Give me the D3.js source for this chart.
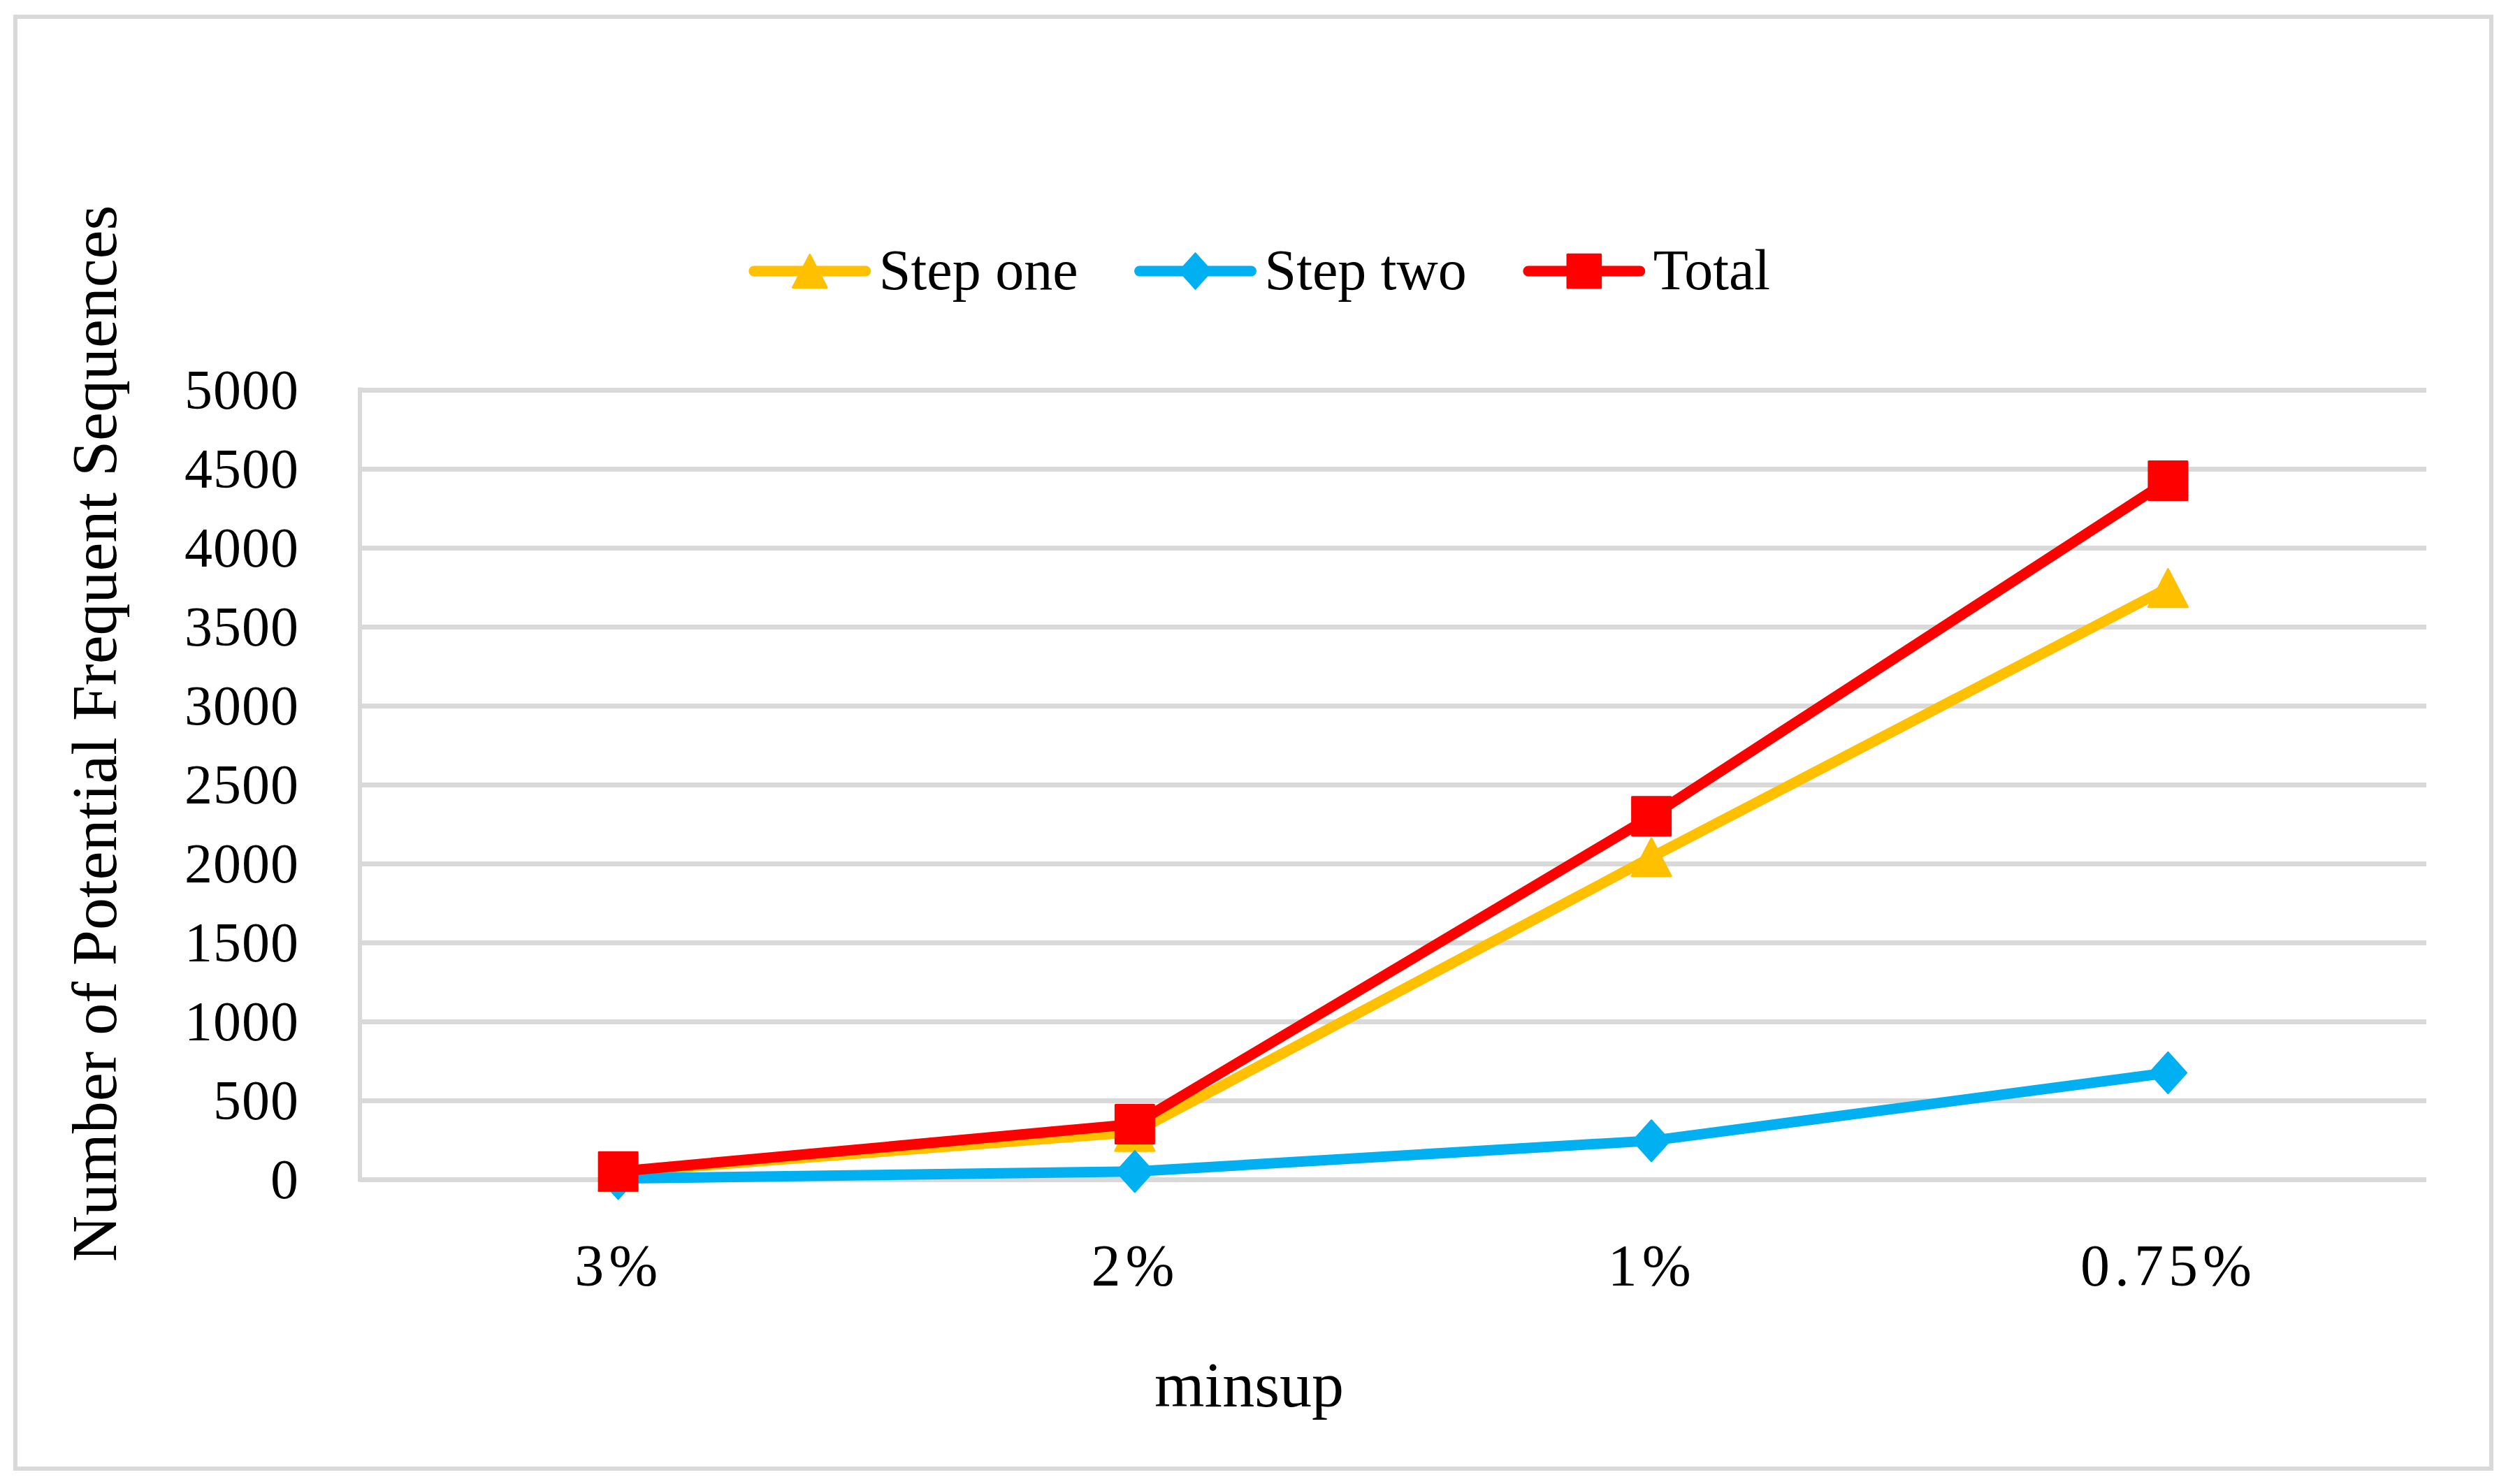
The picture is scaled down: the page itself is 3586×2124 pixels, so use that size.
<!DOCTYPE html>
<html>
<head>
<meta charset="utf-8">
<script src="https://cdn.jsdelivr.net/npm/d3@7"></script>
<style>
  html, body { margin: 0; padding: 0; background: #ffffff; }
  svg { display: block; }
</style>
</head>
<body>
<svg id="chart" width="3586" height="2124"></svg>
<script>
// ---- data ----
const categories = ["3%", "2%", "1%", "0.75%"];
const stepOne = [45, 300, 2040, 3745];
const stepTwo = [5, 50, 245, 675];
const total = [50, 350, 2300, 4425];
const yTicks = [0, 500, 1000, 1500, 2000, 2500, 3000, 3500, 4000, 4500, 5000];
const seriesNames = ["Step one", "Step two", "Total"];
const seriesColors = ["#FFC000", "#00B0F0", "#FF0000"];
const xTitle = "minsup";
const yTitle = "Number of Potential Frequent Sequences";

// ---- layout ----
const plot = { left: 515, right: 3472, top: 558, bottom: 1688 };
const fontFamily = "'Liberation Serif', 'Times New Roman', serif";

const svg = d3.select("#chart");

svg.append("rect")
  .attr("x", 22).attr("y", 24)
  .attr("width", 3543).attr("height", 2078)
  .attr("fill", "#ffffff")
  .attr("stroke", "#D9D9D9")
  .attr("stroke-width", 6);

const x = d3.scalePoint().domain(categories).range([plot.left, plot.right]).padding(0.5);
const y = d3.scaleLinear().domain([0, 5000]).range([plot.bottom, plot.top]);

// gridlines + y tick labels
const yAxis = d3.axisLeft(y)
  .tickValues(yTicks)
  .tickSize(-(plot.right - plot.left))
  .tickPadding(87)
  .tickFormat(d3.format("d"));

const gy = svg.append("g")
  .attr("transform", `translate(${plot.left},0)`)
  .call(yAxis);
gy.select(".domain").remove();
gy.selectAll(".tick line")
  .attr("stroke", "#D9D9D9")
  .attr("stroke-width", 7);
gy.selectAll(".tick text")
  .attr("fill", "#000")
  .attr("font-family", fontFamily)
  .attr("font-size", 80)
  .attr("letter-spacing", 1)
  .attr("dy", "0.33em");

// left vertical axis line
svg.append("line")
  .attr("x1", plot.left).attr("x2", plot.left)
  .attr("y1", y(5000) - 3.5).attr("y2", y(0) + 3.5)
  .attr("stroke", "#D9D9D9")
  .attr("stroke-width", 6);

// x axis labels
const xAxis = d3.axisBottom(x).tickSize(0).tickPadding(0);
const gx = svg.append("g")
  .attr("transform", `translate(0,${plot.bottom})`)
  .call(xAxis);
gx.select(".domain").remove();
gx.selectAll(".tick text")
  .attr("fill", "#000")
  .attr("font-family", fontFamily)
  .attr("font-size", 84)
  .attr("letter-spacing", 7)
  .attr("dy", 0)
  .attr("y", 152);

// axis titles
svg.append("text")
  .attr("x", (plot.left + plot.right) / 2 - 206)
  .attr("y", 2013)
  .attr("text-anchor", "middle")
  .attr("font-family", fontFamily)
  .attr("font-size", 92)
  .attr("fill", "#000")
  .text(xTitle);

svg.append("text")
  .attr("transform", `translate(166,1050) rotate(-90)`)
  .attr("text-anchor", "middle")
  .attr("font-family", fontFamily)
  .attr("font-size", 92)
  .attr("fill", "#000")
  .text(yTitle);

// custom marker shapes
const triangleShape = {
  draw(ctx, size) {
    const w = Math.sqrt(size) * 1.04, h = Math.sqrt(size);
    ctx.moveTo(0, -h / 2);
    ctx.lineTo(w / 2, h / 2);
    ctx.lineTo(-w / 2, h / 2);
    ctx.closePath();
  }
};
const diamondShape = {
  draw(ctx, size) {
    const h = Math.sqrt(size), w = h * 0.9;
    ctx.moveTo(0, -h / 2);
    ctx.lineTo(w / 2, 0);
    ctx.lineTo(0, h / 2);
    ctx.lineTo(-w / 2, 0);
    ctx.closePath();
  }
};
const squareShape = {
  draw(ctx, size) {
    const s = Math.sqrt(size);
    ctx.rect(-s / 2, -s / 2, s, s);
  }
};
const shapes = [triangleShape, diamondShape, squareShape];
const shapeSizes = [54 * 54, 58 * 58, 55 * 55];

const seriesValues = [stepOne, stepTwo, total];

const line = d3.line()
  .x((d, i) => x(categories[i]))
  .y(d => y(d));

seriesValues.forEach((vals, si) => {
  const g = svg.append("g");
  g.append("path")
    .attr("d", line(vals))
    .attr("fill", "none")
    .attr("stroke", seriesColors[si])
    .attr("stroke-width", 15)
    .attr("stroke-linejoin", "round")
    .attr("stroke-linecap", "round");
  g.selectAll("path.marker")
    .data(vals)
    .enter().append("path")
    .attr("class", "marker")
    .attr("transform", (d, i) => `translate(${x(categories[i])},${y(d)})`)
    .attr("d", d3.symbol().type(shapes[si]).size(shapeSizes[si])())
    .attr("fill", seriesColors[si])
    .attr("stroke", seriesColors[si])
    .attr("stroke-width", 3)
    .attr("stroke-linejoin", "round");
});

// legend
const legendY = 388;
const legend = svg.append("g");
const lineLen = 160, textGap = 19, itemGap = 88;
let cursor = 0;
seriesNames.forEach((name, si) => {
  const item = legend.append("g");
  item.append("line")
    .attr("x1", 0).attr("x2", lineLen)
    .attr("y1", 0).attr("y2", 0)
    .attr("stroke", seriesColors[si])
    .attr("stroke-width", 15)
    .attr("stroke-linecap", "round");
  item.append("path")
    .attr("transform", `translate(${lineLen / 2},0)`)
    .attr("d", d3.symbol().type(shapes[si]).size(shapeSizes[si] * 0.75)())
    .attr("fill", seriesColors[si])
    .attr("stroke", seriesColors[si])
    .attr("stroke-width", 3)
    .attr("stroke-linejoin", "round");
  const t = item.append("text")
    .attr("x", lineLen + textGap)
    .attr("y", 26)
    .attr("font-family", fontFamily)
    .attr("font-size", 82)
    .attr("fill", "#000")
    .text(name);
  const w = lineLen + textGap + t.node().getComputedTextLength();
  item.attr("transform", `translate(${cursor},${legendY})`);
  cursor += w + itemGap;
});
const legendWidth = cursor - itemGap;
legend.attr("transform", `translate(${1806 - legendWidth / 2},0)`);
</script>
</body>
</html>
